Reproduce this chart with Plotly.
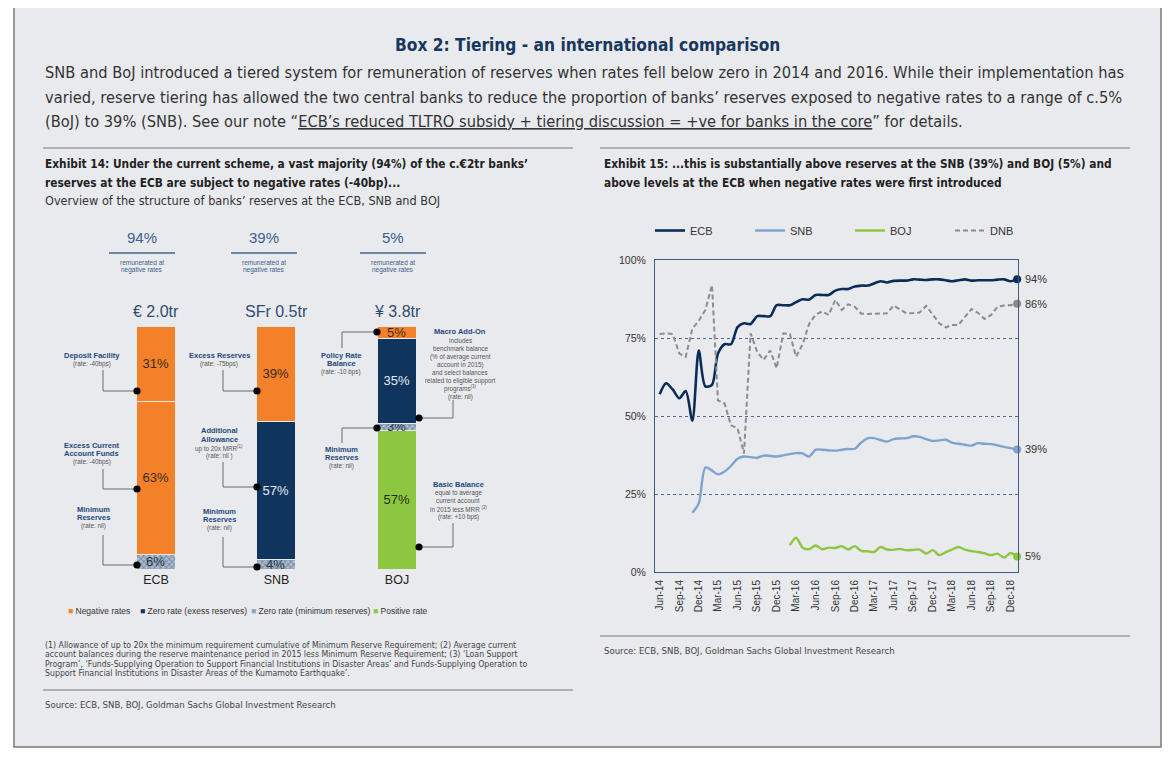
import plotly.graph_objects as go
import pandas as pd

# page body has an 8px margin: the figure is drawn from (8, 8)
OFF = 8
W, H = 1164, 750
def px(x): return (x - OFF) / W
def py(y): return 1 - (y - OFF) / H

NARROW = "Liberation Sans Narrow, Arial Narrow, DejaVu Sans Condensed, sans-serif"
SANS = "Liberation Sans, Arial, sans-serif"

# ---------------- DATA ----------------
banks = ["ECB", "SNB", "BOJ"]
bank_totals = ["€ 2.0tr", "SFr 0.5tr", "¥ 3.8tr"]
neg_share_labels = ["94%", "39%", "5%"]
ecb_shares = [6, 63, 31]
ecb_kinds = ["min", "neg", "neg"]
snb_shares = [4, 57, 39]
snb_kinds = ["min", "zero", "neg"]
boj_shares = [57, 3, 35, 5]
boj_kinds = ["pos", "min", "zero", "neg"]

months = pd.date_range("2014-06-01", periods=56, freq="MS")
ecb_line = [57, 60.5, 58.5, 55.7, 58, 48.5, 71, 59.5, 60, 70, 73, 73, 78.5, 79.7, 79.5, 82, 82, 82,
            85.5, 85.5, 85.5, 86.5, 87.4, 87.3, 88.8, 88.8, 88.8, 90.2, 90.7, 90.7, 91.5, 91.8, 91.8,
            92.5, 93.2, 92.8, 93.3, 93.4, 93.4, 93.8, 93.7, 93.6, 93.8, 93.8, 93.5, 93.2, 93.5, 93.8,
            93.4, 93.5, 93.5, 93.5, 93.7, 93.8, 93.2, 93.8]
dnb_line = [76.3, 76.5, 76.3, 70, 69, 78, 80.5, 84, 92, 55, 54, 47, 46, 38, 76.5, 70.5, 68, 71, 65.3,
            76.5, 76.3, 69, 73, 79.5, 82.5, 83.5, 82.4, 87.2, 84, 85.8, 85, 82.8, 82.7, 82.7, 82.8,
            82.9, 85.4, 84.2, 82.9, 83, 83.2, 85.3, 82.4, 79.7, 78.4, 79.2, 79.2, 81.8, 84.3, 83.1,
            81.1, 82.4, 85, 85.4, 85.5, 86]
snb_start = 5
snb_line = [19, 22, 33.5, 32.5, 31.3, 32.2, 34, 36.3, 37, 36.8, 36.6, 37.3, 37.2, 37, 37.4, 37.8,
            38.1, 38, 37, 39.2, 39.2, 39, 38.9, 39.2, 39.4, 39.5, 41.5, 42.9, 42.9, 42.3, 41.8, 42.6,
            42.8, 42.9, 43.5, 43.3, 42.6, 42, 42.2, 42.4, 41.5, 41.1, 40.8, 40.5, 41.3, 41.1, 41,
            40.6, 40.1, 39.7, 39.3]
boj_start = 20
boj_line = [8.6, 11, 7.8, 7.3, 8.5, 7.3, 7.8, 7.7, 8.3, 7.2, 8.3, 6.8, 6.6, 6.4, 8, 7.2, 7.1, 7.4, 7,
            7.1, 7.2, 5.9, 7, 5.4, 6.4, 7.2, 8, 7.2, 6.7, 6.4, 6, 5.4, 5.9, 4.6, 6.1, 5]
end_labels = ["94%", "86%", "39%", "5%"]
tick_dates = pd.date_range("2014-06-01", "2018-12-01", freq="3MS")
tick_text = [d.strftime("%b-%y") for d in tick_dates]

# ---------------- STYLES ----------------
ORANGE, NAVY, GREEN, HATCH_BG = "#F4812A", "#0F355F", "#8DC641", "#AFBDCD"
kind_style = {
    "neg": dict(color=ORANGE, text="#3a2a1c"),
    "zero": dict(color=NAVY, text="#E4EAF0"),
    "min": dict(color=HATCH_BG, text="#2a3646"),
    "pos": dict(color=GREEN, text="#1f2d10"),
}
LBL = "#24497A"
GRAYTXT = "#555555"

fig = go.Figure()

# ---------------- BARS ----------------
for bank, shares, kinds in [("ECB", ecb_shares, ecb_kinds), ("SNB", snb_shares, snb_kinds),
                            ("BOJ", boj_shares, boj_kinds)]:
    for v, k in zip(shares, kinds):
        st = kind_style[k]
        marker = dict(color=st["color"], line=dict(color="#E9EAEE", width=1.2))
        if k == "min":
            marker["pattern"] = dict(shape="x", fgcolor="#3B577C", bgcolor=HATCH_BG, size=4, solidity=0.45)
        fig.add_trace(go.Bar(
            x=[bank], y=[v], xaxis="x2", yaxis="y2", width=0.32, marker=marker,
            text=[f"{v}%"], textposition="inside", insidetextanchor="middle", constraintext="none",
            textangle=0, textfont=dict(size=13, family=SANS, color=st["text"]),
            showlegend=False, hoverinfo="skip"))

# ---------------- LINES ----------------
fig.add_trace(go.Scatter(x=months, y=ecb_line, mode="lines", name="ECB",
                         line=dict(color="#0B2C57", width=2.6, shape="spline", smoothing=0.8)))
fig.add_trace(go.Scatter(x=months[snb_start:], y=snb_line, mode="lines", name="SNB",
                         line=dict(color="#7FA2CE", width=2.4, shape="spline", smoothing=0.8)))
fig.add_trace(go.Scatter(x=months[boj_start:], y=boj_line, mode="lines", name="BOJ",
                         line=dict(color="#8DC641", width=2.4, shape="spline", smoothing=0.8)))
fig.add_trace(go.Scatter(x=months, y=dnb_line, mode="lines", name="DNB",
                         line=dict(color="#8C8C8C", width=2, dash="5px,3px")))
ends = [(months[-1], ecb_line[-1], "#0B2C57"), (months[-1], dnb_line[-1], "#8C8C8C"),
        (months[-1], snb_line[-1], "#7FA2CE"), (months[-1], boj_line[-1], "#8DC641")]
fig.add_trace(go.Scatter(x=[e[0] for e in ends], y=[e[1] for e in ends], mode="markers",
                         marker=dict(color=[e[2] for e in ends], size=8), showlegend=False,
                         hoverinfo="skip", cliponaxis=False))

ann = []
def txt(x, y, s, size, color="#333333", anchor="left", family=NARROW, yanchor="middle"):
    ann.append(dict(x=px(x), y=py(y), xref="paper", yref="paper", text=s, showarrow=False,
                    xanchor=anchor, yanchor=yanchor, font=dict(size=size, color=color, family=family)))

for (d, v, c), lab in zip(ends, end_labels):
    ann.append(dict(x=d, y=v, xref="x", yref="y", text=lab, showarrow=False, xanchor="left",
                    xshift=6, font=dict(size=11, color="#333333", family=SANS)))

# ---------------- TEXT ----------------
txt(587, 45, "<b>Box 2: Tiering - an international comparison</b>", 17.2, "#17375E", anchor="center")
txt(43, 72, "SNB and BoJ introduced a tiered system for remuneration of reserves when rates fell below zero in 2014 and 2016. While their implementation has", 16.3, "#333333")
txt(43, 97, "varied, reserve tiering has allowed the two central banks to reduce the proportion of banks’ reserves exposed to negative rates to a range of c.5%", 16.3, "#333333")
txt(43, 121, "(BoJ) to 39% (SNB). See our note “<u>ECB’s reduced TLTRO subsidy + tiering discussion = +ve for banks in the core</u>” for details.", 16.3, "#333333")

txt(43, 164, "<b>Exhibit 14: Under the current scheme, a vast majority (94%) of the c.€2tr banks’</b>", 11.8, "#222222")
txt(43, 183, "<b>reserves at the ECB are subject to negative rates (-40bp)...</b>", 11.8, "#222222")
txt(43, 200, "Overview of the structure of banks’ reserves at the ECB, SNB and BOJ", 12.6, "#333333")
txt(602, 164, "<b>Exhibit 15: ...this is substantially above reserves at the SNB (39%) and BOJ (5%) and</b>", 11.8, "#222222")
txt(602, 183, "<b>above levels at the ECB when negative rates were first introduced</b>", 11.8, "#222222")

# remunerated headers
rem_x = [142, 264, 393]
for cx, lab in zip(rem_x, neg_share_labels):
    txt(cx, 238, lab, 15, "#3A5F8C", anchor="center", family=SANS)
    txt(cx, 262, "remunerated at", 6.5, "#3A5F8C", anchor="center", family=SANS)
    txt(cx, 269.5, "negative rates", 6.5, "#3A5F8C", anchor="center", family=SANS)

for b, t in zip(banks, bank_totals):
    ann.append(dict(x=b, y=py(311), xref="x2", yref="paper", text=t, showarrow=False,
                    xanchor="center", yanchor="middle", font=dict(size=16, color="#2E4D73", family=SANS)))

def label(cx, ytop, bold_lines, gray_lines, step=8.6):
    y = ytop
    for l in bold_lines:
        txt(cx, y, f"<b>{l}</b>", 7.5, LBL, anchor="center", family=SANS)
        y += step
    for l in gray_lines:
        txt(cx, y, l, 6.3, GRAYTXT, anchor="center", family=SANS)
        y += step * 0.93

label(92, 355, ["Deposit Facility"], ["(rate: -40bps)"])
label(92, 445, ["Excess Current", "Account Funds"], ["(rate: -40bps)"])
label(93, 509, ["Minimum", "Reserves"], ["(rate: nil)"])
label(219, 355, ["Excess Reserves"], ["(rate: -75bps)"])
label(219, 431, ["Additional", "Allowance"], ["up to 20x MRR<sup>(1)</sup>", "(rate: nil )"])
label(219, 511, ["Minimum", "Reserves"], ["(rate: nil)"])
label(341, 355, ["Policy Rate", "Balance"], ["(rate: -10 bps)"])
label(341, 449, ["Minimum", "Reserves"], ["(rate: nil)"])
label(460, 332, ["Macro Add-On"], ["includes", "benchmark balance", "(% of average current",
                                      "account in 2015)", "and select balances",
                                      "related to eligible support", "programs<sup>(3)</sup>", "(rate: nil)"])
label(458, 484, ["Basic Balance"], ["equal to average", "current account",
                                       "in 2015 less MRR <sup>(2)</sup>", "(rate: +10 bps)"])

# legend of left exhibit
leg_items = [(66, "Negative rates", ORANGE), (138, "Zero rate (exess reserves)", NAVY),
             (249, "Zero rate (minimum reserves)", "#8FA3BC"), (371, "Positive rate", GREEN)]
for x0, t, c in leg_items:
    txt(x0, 611, f"<span style='color:{c}'>■</span> {t}", 8.5, "#333333", family=SANS)

foot = ["(1) Allowance of up to 20x the minimum requirement cumulative of Minimum Reserve Requirement; (2) Average current",
        "account balances during the reserve maintenance period in 2015 less Minimum Reserve Requirement; (3) ‘Loan Support",
        "Program’, ‘Funds-Supplying Operation to Support Financial Institutions in Disaster Areas’ and Funds-Supplying Operation to",
        "Support Financial Institutions in Disaster Areas of the Kumamoto Earthquake’."]
for i, l in enumerate(foot):
    txt(43, 645 + i * 9.3, l, 8.7, "#444444")
txt(43, 704, "Source: ECB, SNB, BOJ, Goldman Sachs Global Investment Research", 9.5, "#444444")
txt(602, 650, "Source: ECB, SNB, BOJ, Goldman Sachs Global Investment Research", 9.5, "#444444")

# ---------------- SHAPES ----------------
shapes = [dict(type="rect", xref="paper", yref="paper", x0=px(14), x1=px(1161), y0=py(747), y1=py(6),
               fillcolor="#E9EAEE", line=dict(color="#7A7A7A", width=1.5), layer="below")]
def hline(x0, x1, y, color="#8A8F96", w=1):
    shapes.append(dict(type="line", xref="paper", yref="paper", x0=px(x0), x1=px(x1), y0=py(y), y1=py(y),
                       line=dict(color=color, width=w)))
def vline(x, y0, y1, color="#8A8F96", w=1):
    shapes.append(dict(type="line", xref="paper", yref="paper", x0=px(x), x1=px(x), y0=py(y0), y1=py(y1),
                       line=dict(color=color, width=w)))
def dot(cx, cy, r=3.6):
    shapes.append(dict(type="circle", xref="paper", yref="paper", x0=px(cx - r), x1=px(cx + r),
                       y0=py(cy + r), y1=py(cy - r), fillcolor="#000000", line=dict(width=0)))

hline(43, 573, 148, "#9A9EA4", 1.3)
hline(600, 1130, 148, "#9A9EA4", 1.3)
hline(43, 573, 690, "#9A9EA4", 1.3)
hline(600, 1130, 636, "#9A9EA4", 1.3)
for cx in rem_x:
    hline(cx - 33, cx + 33, 253, "#6F86A3", 2)

CON = "#6B6B6B"
for yt, yd in [(370, 391), (469, 489), (535, 565)]:
    vline(103, yt, yd, CON); hline(103, 137, yd, CON); dot(137, yd)
for yt, yd in [(370, 391), (462, 487), (537, 567)]:
    vline(223, yt, yd, CON); hline(223, 257, yd, CON); dot(257, yd)
for yd, yb in [(332, 348), (428, 443)]:
    vline(342, yd, yb, CON); hline(342, 377, yd, CON); dot(377, yd)
for yd, yt in [(418, 400), (547, 523)]:
    vline(453, yt, yd, CON); hline(419, 453, yd, CON); dot(419, yd)

# ---------------- LAYOUT ----------------
fig.update_layout(
    width=W, height=H, margin=dict(l=0, r=0, t=0, b=0, autoexpand=False),
    paper_bgcolor="white", plot_bgcolor="rgba(0,0,0,0)",
    barmode="stack", bargap=0, showlegend=True,
    annotations=ann, shapes=shapes,
    legend=dict(orientation="h", x=px(650), y=py(216), xanchor="left", yanchor="top",
                font=dict(size=11, family=SANS, color="#333333"), entrywidth=55,
                entrywidthmode="pixels", bgcolor="rgba(0,0,0,0)", itemwidth=30,
                traceorder="normal"),
    xaxis=dict(domain=[px(655), px(1018)], type="date", range=["2014-05-10", "2019-01-05"],
               tickvals=tick_dates, ticktext=tick_text, tickangle=-90,
               tickfont=dict(size=10, family=SANS, color="#333333"),
               showline=True, mirror=True, linecolor="#3E5C80", linewidth=1, automargin=False,
               showgrid=False, zeroline=False, anchor="y", ticks="", ticklabelstandoff=3),
    yaxis=dict(domain=[py(572), py(260)], range=[0, 100], tickvals=[0, 25, 50, 75, 100],
               ticktext=["0%", "25%", "50%", "75%", "100%"],
               tickfont=dict(size=10.5, family=SANS, color="#333333"),
               showline=True, mirror=True, linecolor="#3E5C80", linewidth=1, automargin=False,
               showgrid=True, gridcolor="#4F6A8C", griddash="dot", gridwidth=1,
               zeroline=False, anchor="x", ticklabelstandoff=6),
    xaxis2=dict(domain=[px(95.75), px(457.25)], range=[-0.5, 2.5], type="category",
                categoryorder="array", categoryarray=banks, anchor="y2", showline=False,
                showgrid=False, zeroline=False, ticks="", automargin=False,
                tickfont=dict(size=12.5, family=SANS, color="#222222")),
    yaxis2=dict(domain=[py(570), py(327)], range=[0, 100], visible=False, anchor="x2",
                automargin=False),
)

fig.write_html("out.html")
